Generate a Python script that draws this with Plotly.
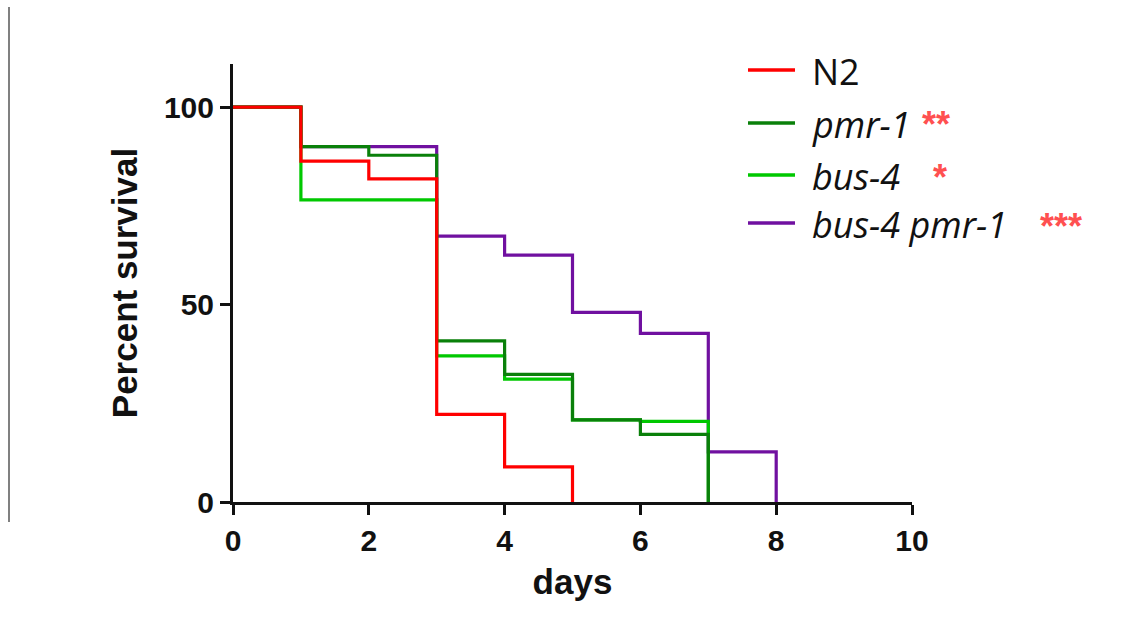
import plotly.graph_objects as go

# ---- data ----
series_names = ["N2", "pmr-1", "bus-4", "bus-4 pmr-1"]
days_n2 = [0, 1, 2, 3, 4, 5]
surv_n2 = [100, 86.3, 81.8, 22.2, 8.9, 0]
days_pmr1 = [0, 1, 2, 3, 4, 5, 6, 7]
surv_pmr1 = [100, 90, 87.8, 40.8, 32.3, 20.8, 17.1, 0]
days_bus4 = [0, 1, 2, 3, 4, 5, 6, 7]
surv_bus4 = [100, 76.5, 76.5, 37, 31.1, 20.8, 20.4, 0]
days_double = [0, 1, 2, 3, 4, 5, 6, 7, 8]
surv_double = [100, 90, 90, 67.3, 62.5, 48, 42.7, 12.7, 0]
significance = ["", "**", "*", "***"]

x_ticks = [0, 2, 4, 6, 8, 10]
y_ticks = [0, 50, 100]

colors = {"N2": "#FF0000", "pmr-1": "#0A800A", "bus-4": "#00C800", "bus-4 pmr-1": "#7010A0"}

# ---- layout geometry ----
W, H = 1140, 630
L, R, T, B = 233, 228, 64, 128
PW, PH = W - L - R, H - T - B


def px2x(px):
    return (px - L) / PW


def py2y(py):
    return (H - B - py) / PH


fig = go.Figure()
# draw order: purple bottom, red on top
for name, xs, ys in [("bus-4 pmr-1", days_double, surv_double),
                     ("bus-4", days_bus4, surv_bus4),
                     ("pmr-1", days_pmr1, surv_pmr1),
                     ("N2", days_n2, surv_n2)]:
    fig.add_trace(go.Scatter(x=xs, y=ys, mode="lines", line_shape="hv",
                             line=dict(color=colors[name], width=3.2),
                             name=name, showlegend=False, cliponaxis=False))

axis_font = dict(family="Liberation Sans, Arial", size=30, color="#111111", weight="bold")
title_font = dict(family="Liberation Sans, Arial", size=35, color="#111111", weight="bold")
fig.update_layout(
    width=W, height=H,
    margin=dict(l=L, r=R, t=T, b=B, pad=0),
    paper_bgcolor="white", plot_bgcolor="white",
    showlegend=False,
    xaxis=dict(range=[0, 10], tickvals=x_ticks, ticktext=[str(v) for v in x_ticks],
               showgrid=False, zeroline=False, showline=True, linecolor="#111111", linewidth=3,
               ticks="outside", ticklen=10, tickwidth=3, tickcolor="#111111",
               tickfont=axis_font,
               title=dict(text="days", font=title_font, standoff=14)),
    yaxis=dict(range=[0, 110.9], tickvals=y_ticks, ticktext=[str(v) for v in y_ticks],
               showgrid=False, zeroline=False, showline=True, linecolor="#111111", linewidth=3,
               ticks="outside", ticklen=10, tickwidth=3, tickcolor="#111111",
               tickfont=axis_font,
               title=dict(text="Percent survival", font=title_font, standoff=16)),
)

# left grey border line present in the reference image
fig.add_shape(type="line", xref="paper", yref="paper",
              x0=px2x(9), x1=px2x(9), y0=py2y(7), y1=py2y(522),
              line=dict(color="#808080", width=2))

# custom legend
row_y = [70, 123, 175, 223]
label_html = ["N2", "<i>pmr-1</i>", "<i>bus-4</i>", "<i>bus-4 pmr-1</i>"]
star_x = [None, 936, 940, 1061]
star_y = [None, 115, 168, 217]
for i, name in enumerate(series_names):
    fig.add_shape(type="line", xref="paper", yref="paper",
                  x0=px2x(748), x1=px2x(795), y0=py2y(row_y[i]), y1=py2y(row_y[i]),
                  line=dict(color=colors[name], width=3.5))
    fig.add_annotation(xref="paper", yref="paper", x=px2x(810), y=py2y(row_y[i] + 1),
                       xanchor="left", yanchor="middle", showarrow=False,
                       text=label_html[i], font=dict(family="Open Sans", size=36, color="#111111"))
    if significance[i]:
        fig.add_annotation(xref="paper", yref="paper", x=px2x(star_x[i]), y=py2y(star_y[i] + 9),
                           xanchor="center", yanchor="middle", showarrow=False,
                           text="<b>" + significance[i] + "</b>",
                           font=dict(family="Liberation Sans, Arial", size=36, color="#FF5050"))

fig.write_html("out.html")
